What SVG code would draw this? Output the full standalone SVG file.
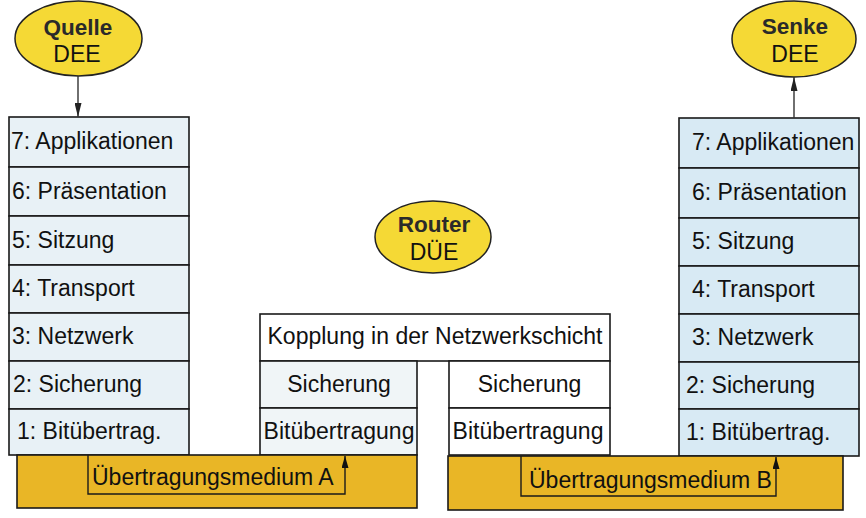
<svg xmlns="http://www.w3.org/2000/svg" width="866" height="518" viewBox="0 0 866 518">
<defs>
<marker id="ah" viewBox="0 0 10 10" refX="10" refY="5" markerWidth="12" markerHeight="7" markerUnits="userSpaceOnUse" orient="auto" preserveAspectRatio="none">
<path d="M0,0 L10,5 L0,10 z" fill="#111"/>
</marker>
<marker id="ahs" viewBox="0 0 10 10" refX="10" refY="5" markerWidth="14" markerHeight="7" markerUnits="userSpaceOnUse" orient="auto" preserveAspectRatio="none">
<path d="M0,0 L10,5 L0,10 z" fill="#222"/>
</marker>
</defs>
<style>
text{font-family:"Liberation Sans",Arial,sans-serif;font-size:23px;fill:#111}
.b{font-weight:bold;font-size:22.5px;fill:#2a2a2a}
.m{text-anchor:middle}
.ell{fill:#f5d935;stroke:#222;stroke-width:1.5}
.sl{fill:#e8f1f6;stroke:#1a1a1a;stroke-width:1.6}
.sr{fill:#d8eaf4;stroke:#1a1a1a;stroke-width:1.6}
.w{fill:#ffffff;stroke:#1a1a1a;stroke-width:1.6}
.wl{fill:#f0f5f7;stroke:#1a1a1a;stroke-width:1.6}
.med{fill:#e9b626;stroke:#1a1a1a;stroke-width:1.6}
.in{fill:none;stroke:#1a1a1a;stroke-width:1.4}
.con{fill:none;stroke:#333;stroke-width:1.4}
</style>

<g id="quelle">
<ellipse class="ell" cx="78.5" cy="38.5" rx="63.5" ry="37.5"/>
<text class="b m" x="78" y="35">Quelle</text>
<text class="m" x="77" y="62">DEE</text>
</g>

<g id="senke">
<ellipse class="ell" cx="794" cy="39" rx="62" ry="38"/>
<text class="b m" x="795" y="34">Senke</text>
<text class="m" x="795" y="62">DEE</text>
</g>

<g id="router">
<ellipse class="ell" cx="433" cy="237" rx="58" ry="36"/>
<text class="b m" x="434" y="232">Router</text>
<text class="m" x="434" y="260">DÜE</text>
</g>

<g id="stack-left">
<rect class="sl" x="9" y="117" width="180" height="50"/>
<rect class="sl" x="9" y="167" width="180" height="49"/>
<rect class="sl" x="9" y="216" width="180" height="49"/>
<rect class="sl" x="9" y="265" width="180" height="48"/>
<rect class="sl" x="9" y="313" width="180" height="48"/>
<rect class="sl" x="9" y="361" width="180" height="48"/>
<rect class="sl" x="9" y="409" width="180" height="46"/>
<text x="11" y="149">7: Applikationen</text>
<text x="12" y="198.5">6: Präsentation</text>
<text x="12" y="247.5">5: Sitzung</text>
<text x="12" y="296">4: Transport</text>
<text x="12" y="344">3: Netzwerk</text>
<text x="13" y="392">2: Sicherung</text>
<text x="17" y="439">1: Bitübertrag.</text>
</g>

<g id="stack-right">
<rect class="sr" x="679" y="118" width="180" height="50"/>
<rect class="sr" x="679" y="168" width="180" height="50"/>
<rect class="sr" x="679" y="218" width="180" height="48"/>
<rect class="sr" x="679" y="266" width="180" height="48"/>
<rect class="sr" x="679" y="314" width="180" height="48"/>
<rect class="sr" x="679" y="362" width="180" height="47"/>
<rect class="sr" x="679" y="409" width="180" height="47"/>
<text x="692" y="150">7: Applikationen</text>
<text x="692" y="200">6: Präsentation</text>
<text x="692" y="249">5: Sitzung</text>
<text x="692" y="297">4: Transport</text>
<text x="692" y="345">3: Netzwerk</text>
<text x="686" y="393">2: Sicherung</text>
<text x="686" y="440">1: Bitübertrag.</text>
</g>

<g id="router-stack">
<rect class="w" x="260" y="314" width="350" height="47"/>
<rect class="wl" x="260" y="361" width="157" height="47"/>
<rect class="wl" x="260" y="408" width="157" height="47"/>
<rect class="w" x="449" y="361" width="161" height="47"/>
<rect class="w" x="449" y="408" width="161" height="47"/>
<text class="m" x="435" y="344">Kopplung in der Netzwerkschicht</text>
<text class="m" x="339" y="392">Sicherung</text>
<text class="m" x="339" y="439">Bitübertragung</text>
<text class="m" x="529.5" y="392">Sicherung</text>
<text class="m" x="528" y="439">Bitübertragung</text>
</g>

<g id="medium-a">
<rect class="med" x="17" y="455" width="400" height="53"/>
<text x="92" y="485">Übertragungsmedium A</text>
</g>

<g id="medium-b">
<rect class="med" x="448" y="456" width="395" height="54"/>
<text x="529" y="488">Übertragungsmedium B</text>
</g>

<g id="connectors">
<line class="con" x1="78" y1="76" x2="78" y2="117" marker-end="url(#ahs)"/>
<line class="con" x1="794" y1="118" x2="794" y2="77" marker-end="url(#ahs)"/>
<polyline class="in" points="88,455 88,494 345,494 345,456" marker-end="url(#ah)"/>
<polyline class="in" points="521,456 521,496 776,496 776,457" marker-end="url(#ah)"/>
</g>
</svg>
